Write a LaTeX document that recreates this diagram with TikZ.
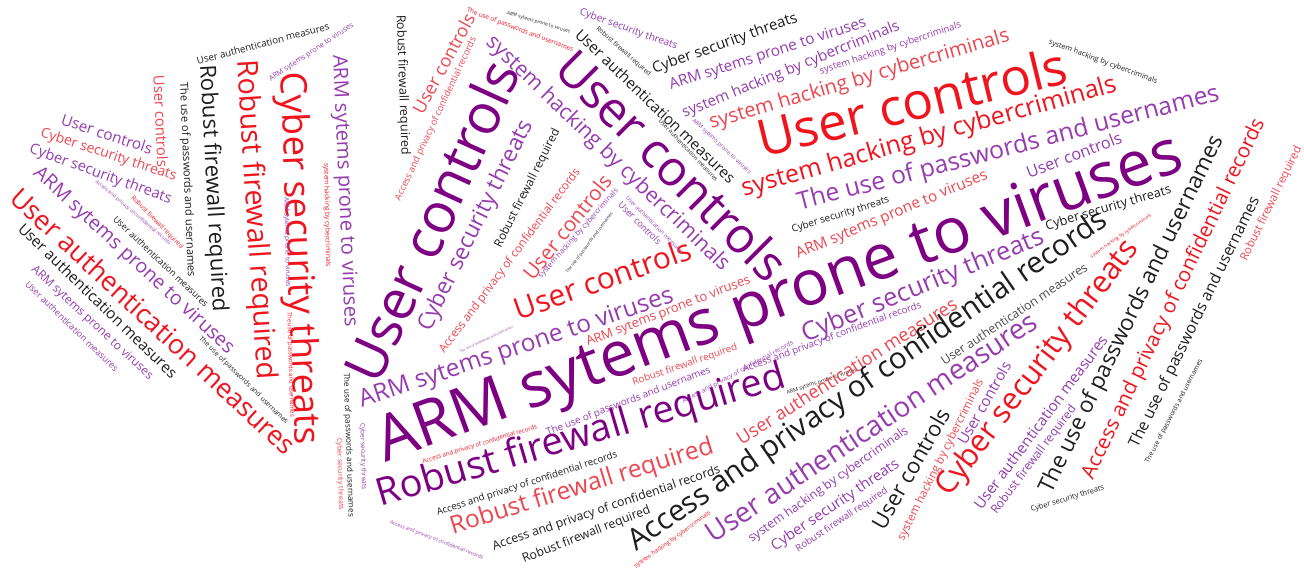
\documentclass[tikz,border=0pt]{standalone}
\usepackage{fontspec}
\setmainfont{Open Sans}
\definecolor{dpur}{RGB}{125,0,130}
\definecolor{pur}{RGB}{150,60,175}
\definecolor{cred}{RGB}{240,20,30}
\definecolor{clred}{RGB}{238,70,80}
\definecolor{cdark}{RGB}{30,30,30}
\definecolor{cgray}{RGB}{75,75,75}
\newcommand\phA{ARM sytems prone to viruses}
\newcommand\phU{User controls}
\newcommand\phC{Cyber security threats}
\newcommand\phR{Robust firewall required}
\newcommand\phM{User authentication measures}
\newcommand\phT{The use of passwords and usernames}
\newcommand\phS{system hacking by cybercriminals}
\newcommand\phX{Access and privacy of confidential records}
\newcommand\wcfont{\fontsize{10}{12}\selectfont}
\newlength\wlA \newlength\wlU \newlength\wlC \newlength\wlR
\newlength\wlM \newlength\wlT \newlength\wlS \newlength\wlX
\newcommand\wc[7]{%
  \pgfmathsetmacro\wcang{atan2(#4-#6,#5-#3)}%
  \pgfmathsetmacro\wcs{veclen(#5-#3,#6-#4)/\csname wl#7\endcsname}%
  \node[wtext,text=#2,rotate=\wcang] (#1) at ({(#3+#5)/2},{(#4+#6)/2}) {\scalebox{\wcs}{\wcfont\csname ph#7\endcsname}};%
}
\tikzset{wtext/.style={inner sep=0pt,outer sep=0pt}}
\begin{document}
\settowidth\wlA{\wcfont\phA}\settowidth\wlU{\wcfont\phU}%
\settowidth\wlC{\wcfont\phC}\settowidth\wlR{\wcfont\phR}%
\settowidth\wlM{\wcfont\phM}\settowidth\wlT{\wcfont\phT}%
\settowidth\wlS{\wcfont\phS}\settowidth\wlX{\wcfont\phX}%
\begin{tikzpicture}[x=1pt,y=-1pt]
\fill[white] (0,0) rectangle (1304,572);
\useasboundingbox (0,0) rectangle (1304,572);
\wc{w1}{dpur}{380}{448}{1181}{154}{A}
\wc{w2}{dpur}{360}{378}{503}{64}{U}
\wc{w3}{dpur}{565}{58}{780}{272}{U}
\wc{w4}{cred}{758}{139}{1066}{64}{U}
\wc{w5}{cred}{290}{72}{305}{445}{C}
\wc{w6}{cred}{245}{60}{265}{380}{R}
\wc{w7}{cdark}{206}{65}{219}{312}{R}
\wc{w8}{cred}{15}{193}{292}{449}{M}
\wc{w9}{pur}{36}{171}{231}{351}{A}
\wc{w10}{pur}{30}{149}{171}{200}{C}
\wc{w11}{clred}{41}{133}{176}{177}{C}
\wc{w12}{pur}{62}{119}{152}{149}{U}
\wc{w13}{clred}{159}{75}{163}{167}{U}
\wc{w14}{cdark}{183}{82}{191}{277}{T}
\wc{w15}{cdark}{197}{61}{329}{26}{M}
\wc{w16}{pur}{270}{80}{353}{25}{A}
\wc{w17}{cdark}{21}{226}{175}{375}{M}
\wc{w18}{pur}{33}{268}{151}{378}{A}
\wc{w19}{pur}{27}{283}{117}{370}{M}
\wc{w20}{pur}{96}{181}{170}{244}{X}
\wc{w21}{cred}{132}{197}{182}{248}{R}
\wc{w22}{cdark}{115}{218}{207}{305}{M}
\wc{w23}{cred}{326}{163}{328}{267}{S}
\wc{w24}{pur}{286}{197}{288}{287}{A}
\wc{w25}{pur}{338}{55}{350}{327}{A}
\wc{w26}{cdark}{400}{15}{405}{155}{R}
\wc{w27}{clred}{417}{112}{470}{15}{U}
\wc{w28}{clred}{398}{200}{474}{38}{X}
\wc{w29}{cdark}{346}{373}{351}{517}{T}
\wc{w30}{pur}{362}{423}{364}{490}{C}
\wc{w31}{clred}{339}{438}{341}{510}{C}
\wc{w32}{cred}{289}{312}{292}{417}{T}
\wc{w33}{cdark}{200}{338}{287}{423}{T}
\wc{w34}{pur}{360}{402}{673}{296}{A}
\wc{w35}{pur}{425}{330}{528}{122}{C}
\wc{w36}{cdark}{498}{247}{557}{130}{R}
\wc{w37}{clred}{442}{352}{578}{170}{X}
\wc{w38}{clred}{527}{277}{607}{177}{U}
\wc{w39}{pur}{540}{277}{617}{190}{S}
\wc{w40}{pur}{489}{40}{726}{268}{S}
\wc{w41}{cdark}{578}{32}{733}{180}{M}
\wc{w42}{cdark}{597}{28}{650}{75}{R}
\wc{w43}{pur}{580}{12}{677}{47}{C}
\wc{w44}{cdark}{653}{70}{797}{18}{C}
\wc{w45}{pur}{670}{86}{866}{23}{A}
\wc{w46}{pur}{683}{114}{899}{26}{S}
\wc{w47}{pur}{820}{72}{961}{25}{S}
\wc{w48}{clred}{710}{124}{1009}{36}{S}
\wc{w49}{cred}{742}{190}{1116}{85}{S}
\wc{w50}{pur}{798}{204}{1219}{94}{T}
\wc{w52}{cred}{515}{310}{690}{248}{U}
\wc{w53}{clred}{587}{343}{750}{280}{A}
\wc{w54}{pur}{803}{336}{1043}{237}{C}
\wc{w55}{pur}{743}{370}{921}{305}{X}
\wc{w56}{clred}{633}{383}{737}{347}{R}
\wc{w57}{pur}{547}{433}{710}{370}{T}
\wc{w58}{pur}{683}{402}{793}{343}{X}
\wc{w59}{cdark}{787}{393}{857}{370}{A}
\wc{w60}{dpur}{378}{497}{785}{377}{R}
\wc{w61}{clred}{451}{528}{713}{447}{R}
\wc{w62}{cdark}{437}{513}{617}{455}{X}
\wc{w63}{cdark}{493}{547}{720}{470}{X}
\wc{w64}{cdark}{523}{560}{650}{510}{R}
\wc{w65}{clred}{738}{440}{955}{302}{M}
\wc{w66}{cdark}{632}{545}{1105}{218}{X}
\wc{w67}{pur}{708}{535}{1034}{318}{M}
\wc{w68}{cgray}{942}{362}{1086}{266}{M}
\wc{w69}{pur}{750}{540}{907}{430}{S}
\wc{w70}{pur}{773}{548}{898}{463}{C}
\wc{w71}{pur}{797}{550}{887}{490}{R}
\wc{w72}{cdark}{877}{527}{944}{410}{U}
\wc{w73}{clred}{901}{540}{981}{380}{S}
\wc{w74}{pur}{961}{443}{1007}{363}{U}
\wc{w75}{cred}{943}{493}{1133}{244}{C}
\wc{w76}{pur}{977}{507}{1104}{337}{M}
\wc{w77}{pur}{994}{513}{1074}{407}{R}
\wc{w78}{cdark}{1046}{492}{1218}{137}{T}
\wc{w79}{cred}{1088}{478}{1260}{120}{X}
\wc{w80}{cdark}{1134}{447}{1256}{198}{T}
\wc{w81}{cdark}{1147}{463}{1201}{360}{T}
\wc{w82}{cdark}{1031}{510}{1104}{488}{C}
\wc{w83}{clred}{1244}{260}{1299}{147}{R}
\wc{w85}{cdark}{1046}{227}{1171}{190}{C}
\wc{w86}{pur}{1027}{173}{1121}{137}{U}
\wc{w87}{clred}{797}{255}{987}{175}{A}
\wc{w88}{cdark}{792}{230}{889}{200}{C}
\wc{w89}{cdark}{1049}{42}{1157}{82}{S}
\wc{w90}{cred}{1091}{257}{1151}{215}{S}
\wc{w91}{cdark}{660}{120}{717}{180}{M}
\wc{w92}{pur}{693}{120}{750}{173}{A}
\wc{w93}{pur}{620}{203}{660}{243}{U}
\wc{w94}{pur}{627}{197}{683}{253}{M}
\wc{w95}{cdark}{567}{273}{612}{213}{T}
\wc{w96}{cred}{467}{10}{573}{50}{T}
\wc{w97}{cdark}{507}{13}{570}{32}{A}
\wc{w98}{pur}{390}{522}{483}{558}{X}
\wc{w99}{cred}{423}{462}{537}{427}{X}
\wc{w100}{cred}{635}{567}{710}{513}{S}
\wc{w101}{pur}{460}{352}{513}{327}{T}
\end{tikzpicture}
\end{document}
